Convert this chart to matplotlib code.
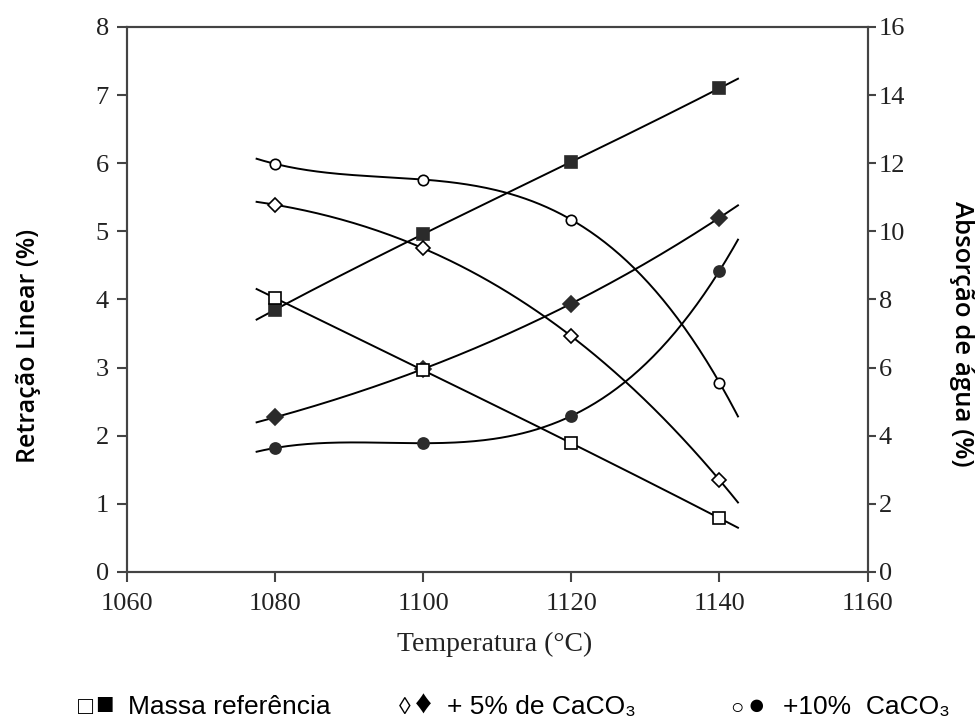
import matplotlib
matplotlib.use("Agg")
import matplotlib.pyplot as plt
import numpy as np

# temperaturas (°C)
temperature = [1080, 1100, 1120, 1140]

# retração linear (%) - eixo esquerdo, símbolos cheios
retracao_ref = [3.85, 4.96, 6.02, 7.10]
retracao_5 = [2.27, 2.98, 3.94, 5.20]
retracao_10 = [1.82, 1.89, 2.29, 4.42]

# absorção de água (%) - eixo direito, símbolos vazios
absorcao_ref = [8.04, 5.92, 3.78, 1.58]
absorcao_5 = [10.78, 9.50, 6.92, 2.70]
absorcao_10 = [11.98, 11.52, 10.34, 5.56]

x_ticks = [1060, 1080, 1100, 1120, 1140, 1160]
left_ticks = [0, 1, 2, 3, 4, 5, 6, 7, 8]
right_ticks = [0, 2, 4, 6, 8, 10, 12, 14, 16]

fit_range = (1077.5, 1142.5)

serif = ["Liberation Serif", "DejaVu Serif"]
sans = ["Liberation Sans", "DejaVu Sans"]
label_font = ["Open Sans", "DejaVu Sans"]
dark = "#2b2b2b"


def trend(ax, xs, ys, marker, filled, ms):
    # linha de tendência polinomial (ordem 3) sobre os pontos
    coef = np.polyfit(xs, ys, 3)
    xx = np.linspace(*fit_range, 200)
    ax.plot(xx, np.polyval(coef, xx), color="black", lw=1.4, zorder=2)
    ax.plot(xs, ys, linestyle="none", marker=marker, ms=ms,
            markerfacecolor=dark if filled else "white",
            markeredgecolor=dark if filled else "black", mew=1.2, zorder=3)


fig = plt.figure(figsize=(9.77, 7.2), dpi=100)
ax = fig.add_axes([0.130, 0.2056, 0.758, 0.757])
ax2 = ax.twinx()

trend(ax, temperature, retracao_ref, "s", True, 8.5)
trend(ax, temperature, retracao_5, "D", True, 8)
trend(ax, temperature, retracao_10, "o", True, 8)
trend(ax2, temperature, absorcao_ref, "s", False, 8.5)
trend(ax2, temperature, absorcao_5, "D", False, 7.5)
trend(ax2, temperature, absorcao_10, "o", False, 7.5)

ax.set_xlim(1060, 1160)
ax.set_ylim(0, 8)
ax2.set_ylim(0, 16)
ax.set_xticks(x_ticks)
ax.set_yticks(left_ticks)
ax2.set_yticks(right_ticks)

for a in (ax, ax2):
    for s in a.spines.values():
        s.set_linewidth(1.5)
        s.set_color("#444444")
    a.tick_params(direction="out", length=7, width=1.5, color="#444444",
                  labelsize=19)
    for lab in a.get_xticklabels() + a.get_yticklabels():
        lab.set_family(serif)
        lab.set_color("#222222")
ax.tick_params(axis="x", pad=8)
ax.tick_params(axis="y", pad=6)
ax2.tick_params(axis="y", length=6, pad=2)

fig.text(0.506, 0.096, "Temperatura (°C)", family=serif, fontsize=20,
         color="#222222", ha="center", va="baseline")
fig.text(0.029, 0.52, "Retração Linear (%)", family=label_font, fontsize=18,
         fontweight="semibold", rotation=90, ha="center", va="center")
fig.text(0.984, 0.536, "Absorção de água (%)", family=label_font, fontsize=18.5,
         fontweight="semibold", rotation=-90, ha="center", va="center")

# legenda em texto abaixo do gráfico
ly = 0.009
fig.text(0.080, ly, "□", family=sans, fontsize=18, va="baseline")
fig.text(0.097, ly, "■", family=sans, fontsize=22, va="baseline")
fig.text(0.131, ly, "Massa referência", family=sans, fontsize=19, va="baseline")
fig.text(0.408, ly, "◊", family=sans, fontsize=17, va="baseline")
fig.text(0.425, ly, "♦", family=sans, fontsize=24, va="baseline")
fig.text(0.458, ly, "+ 5% de CaCO₃", family=sans, fontsize=19, va="baseline")
fig.text(0.747, ly, "○", family=sans, fontsize=16, va="baseline")
fig.text(0.765, ly, "●", family=sans, fontsize=21, va="baseline")
fig.text(0.801, ly, "+10%  CaCO₃", family=sans, fontsize=19, va="baseline")

fig.savefig("out.png", dpi=100)
